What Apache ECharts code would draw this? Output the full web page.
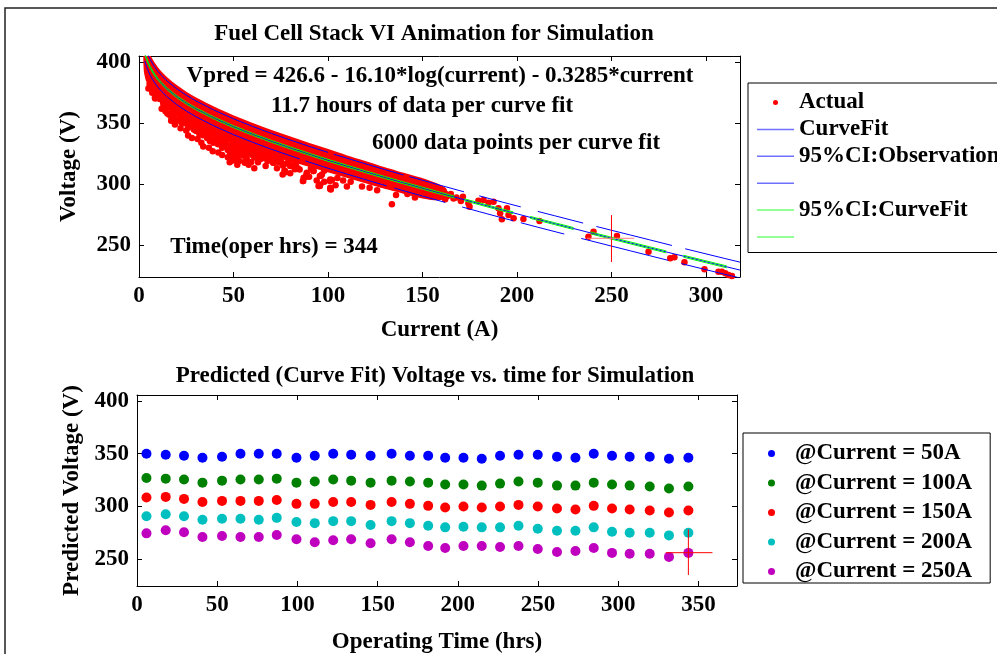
<!DOCTYPE html>
<html><head><meta charset="utf-8">
<script src="https://cdn.jsdelivr.net/npm/echarts@6/dist/echarts.min.js"></script>
<style>html,body{margin:0;padding:0;background:#fff;overflow:hidden}#c{width:997px;height:654px}</style>
</head><body><div id="c"></div>
<script>
// ---------- TOP PLOT DATA ----------
const titleTop = 'Fuel Cell Stack VI Animation for Simulation';
const titleBottom = 'Predicted (Curve Fit) Voltage vs. time for Simulation';
const noteLines = ['Vpred = 426.6 - 16.10*log(current) - 0.3285*current', '11.7 hours of data per curve fit', '6000 data points per curve fit', 'Time(oper hrs) = 344'];

// dense cloud of measured points (upper / lower edge of the solid band)
const bandTop = [[3,416.4],[4,411.5],[5,407.6],[6,404.3],[8,399],[10,394.7],[12,391.2],[15,386.6],[20,380.3],[25,375.1],[30,370.5],[40,362.6],[50,355.7],[60,349.5],[70,343.7],[80,338.3],[90,333.1],[100,328],[110,322.8],[120,318],[130,313],[140,308.5],[150,304],[158,299.5],[162,296]];
const bandBottom = [[3,394],[4,386],[5,383],[6,380],[8,375],[10,370.5],[12,367],[15,362.5],[20,356.5],[25,351.5],[30,347.5],[40,340],[50,334],[60,328.5],[70,324],[80,319.5],[90,315],[100,310.5],[110,306],[120,301.5],[130,297],[140,293],[150,289],[158,287.5],[162,289]];

// individual measured points (outliers and sparse region)
const actualPts = [
 [5.6,382.4],[8.2,377],[9.1,371.5],[17,363.3],[17.9,357.8],[21.4,356.5],[23.2,352.4],[25.9,349.6],[27.6,353.7],[31.2,345.5],
 [33.8,349.6],[35.6,342.8],[38.2,337.3],[40.8,341.4],[41.7,333.2],[44.4,336],[47,338.7],[48.8,331.9],[50.5,326.4],[49.7,319.5],
 [53.2,329.1],[55,323.6],[59.4,318.1],[58.5,326.4],[64.7,320.9],[68.2,320.9],[70.8,318.1],[76.1,315.4],[77,311.3],[39.1,346.9],
 [33.8,340.1],[8.6,370.4],[5.0,378.6],[13,365],[18.3,354],[28.9,347.6],[43,343.6],[42.1,335.4],[48.2,325.8],[51.8,328.5],
 [56.2,319],[53.5,332.6],[63.2,321.7],[66.8,321.7],[71.2,317.6],[80,314.9],[87.1,305.3],[88.8,309.4],[92.4,310.8],[96.8,308],
 [95.9,299.8],[101.2,303.9],[101.2,297.1],[133.8,283.4],[77.4,309.7],[80.4,315.1],[88.5,306.1],[86.7,302.5],[96.2,306.9],[95,298.4],
 [102.1,303.4],[101.2,296],[11,370],[14,362],[16,366],[19,358],[20,352],[22,360],[24,355],[26,352],
 [28,350],[30,344],[32,348],[34,344],[36,346],[37,340],[39,342],[42,340],[45,332],[46,338],
 [50,334],[52,322],[54,328],[56,330],[57,324],[60,328],[61,322],[62,326],[66,324],[72,322],
 [74,318],[79,318],[83,316],[85,312],[91,313],[98,311],[105,305],[108,303],[112,302],[118,298],
 [122,297],[126,295],[128,300],[136,291],[142,292],[146,289],[152,298],[154,293],[157,297],[160,293],
 [163,290],[165,292],[168,289],[155.8,295.2],[158.5,295.7],[161.1,294.6],[162,292.4],[159.4,291],[162,287.5],[164.7,291],
 [166.4,288.3],[171.4,289.7],[170.3,286.1],[174.3,284.2],[174.9,281.4],[179.6,286.4],[182.3,286.9],[184.9,284.7],[187.6,285.5],[190.2,280.1],
 [191.1,276],[194.7,280.1],[195.5,274.6],[198.2,271.9],[192,271.1],[203.4,271.3],[211.9,269.7],[237.8,256.8],[240.5,260.9],[252.9,257.4],
 [269.6,244.5],[281.1,239.1],[283.3,239.9],[288.6,235.8],[299.2,230],[306.6,228.1],[308.4,228.1],[310.2,226.8],[311.9,225.4],[313.7,224.6],
 [5.8,380.5],[8.4,370.9],[12.8,366.8],[17.2,354.5],[19,358.6],[22.5,350.4],[26,346.3],[30.4,343.6],[34.9,340.9],[37.5,335.4],
 [39.3,334],[41.9,332.7],[43.7,339.5],[47.2,336.8],[48.9,328.6],[49.8,323.1],[52.5,327.2],[50.7,320.4],[56,317.6],[54.2,324.5],
 [57.8,325.8],[62.2,321.7],[66.6,321.7],[71,317.6],[70.1,321.7],[77.2,310.8],[80.7,314.9],[86.9,302.5],[88.6,308],[92.2,310.8],
 [95.7,306.6],[95.7,298.4],[101,302.5],[101.5,295.7],[19.8,364.1],[27.8,353.2],[33.1,346.3],[46.3,342.2],[50.7,332.7],[56,329.9],
 [61.3,328.6],[64.8,325.8],[75.4,317.6],[82.5,312.2],[14,360],[16,357],[18,361],[21,353],[23,357],[24,350],
 [27,349],[29,345],[31,349],[32,341],[35,345],[36,338],[38,343],[40,336],[41,339],[43,335],
 [44,330],[46,333],[47,328],[49,332],[51,325],[53,330],[55,326],[57,321],[58,329],[60,324],
 [63,318],[65,323],[68,319],[69,324],[72,319],[75,320],[78,317],[82,316],[84,313],[7,375],
 [12,362],[15,358],[17,352],[19,349],[22,346],[25,344],[26,340],[28,338],[31,337],[33,334],
 [34,331],[37,330],[39,327],[42,326],[44,324],[47,322],[48,318],[52,316],[53,319],[58,316],
 [61,313],[67,315],[73,313],[76,308],[80,309],[90,306],[94,303],[98,302],[104,299],[110,298]
];

// curve fit (Vpred)
const fitLine = [[3,407.9],[3.5,405.3],[4,403.0],[5,399.1],[6,395.8],[7,393.0],[8,390.5],[10,386.2],[12,382.7],[15,378.1],[20,371.8],[25,366.6],[30,362.0],[40,354.1],[50,347.2],[60,341.0],[70,335.2],[80,329.8],[90,324.6],[100,319.6],[110,314.8],[120,310.1],[130,305.5],[140,301.0],[150,296.7],[160,292.3],[170,288.1],[180,283.9],[190,279.7],[200,275.6],[210,271.5],[220,267.5],[230,263.5],[240,259.5],[250,255.6],[260,251.7],[270,247.8],[280,243.9],[290,240.1],[300,236.2],[310,232.4],[318,229.4]];

// 95% CI : observation (drawn in segments)
const obsUpperSegs = [
 [[3,414.4],[3.5,411.8],[4,409.5],[5,405.6],[6,402.3],[7,399.5],[8,397.0],[10,392.7],[12,389.2],[15,384.6],[20,378.3],[25,373.1],[30,368.5],[40,360.6],[50,353.7],[60,347.5],[70,341.7],[80,336.3],[90,331.1],[100,326.1]],
 [[103,324.6],[110,321.3],[120,316.6],[130,312.0],[140,307.5]],
 [[143,306.2],[150,303.2],[160,298.8],[172,293.7]],
 [[180,290.4],[190,286.2],[202,281.3]],
 [[211,277.6],[220,274.0],[235,268.0]],
 [[242,265.2],[250,262.1],[260,258.2],[270,254.3],[282,249.6]],
 [[289,246.9],[300,242.7],[310,238.9],[318,235.9]]
];
const obsLowerSegs = [
 [[3,401.4],[3.5,398.8],[4,396.5],[5,392.6],[6,389.3],[7,386.5],[8,384.0],[10,379.7],[12,376.2],[15,371.6],[20,365.3],[25,360.1],[30,355.5],[40,347.6],[50,340.7],[60,334.5],[70,328.7],[85,320.7]],
 [[88,319.1],[100,313.1],[110,308.3],[120,303.6],[131,298.6]],
 [[135,296.8],[150,290.2],[162,285.0]],
 [[171,281.2],[180,277.4],[190,273.2],[198,269.9]],
 [[202,268.3],[211,264.6],[225,259.0]],
 [[234,255.4],[250,249.1],[260,245.2],[270,241.3],[280,237.4]],
 [[287,234.7],[300,229.7],[310,225.9],[318,222.9]]
];
// 95% CI : curve fit (drawn in segments)
const fitUpperSegs = [
 [[3,408.7],[3.5,406.1],[4,403.8],[5,399.9],[6,396.6],[7,393.8],[8,391.3],[10,387.0],[12,383.5],[15,378.9],[20,372.6],[25,367.4],[30,362.8],[40,354.9],[50,348.0],[60,341.8],[70,336.0],[80,330.6],[90,325.4],[100,320.4],[110,315.6],[120,310.9],[130,306.3],[140,301.8],[150,297.5],[160,293.1],[167,290.1]],
 [[172,288.0],[180,284.7],[190,280.5],[198,277.2]],
 [[207,273.5],[220,268.3],[230,264.3]],
 [[239,260.7],[250,256.4],[260,252.5],[270,248.6],[279,245.1]],
 [[288,241.6],[300,237.0],[311,232.8]]
];
const fitLowerSegs = [
 [[3,407.1],[3.5,404.5],[4,402.2],[5,398.3],[6,395.0],[7,392.2],[8,389.7],[10,385.4],[12,381.9],[15,377.3],[20,371.0],[25,365.8],[30,361.2],[40,353.3],[50,346.4],[60,340.2],[70,334.4],[80,329.0],[90,323.8],[100,318.8],[110,314.0],[120,309.3],[130,304.7],[140,300.2],[150,295.9],[160,291.5],[167,288.5]],
 [[172,286.4],[180,283.1],[190,278.9],[198,275.6]],
 [[207,271.9],[220,266.7],[230,262.7]],
 [[239,259.1],[250,254.8],[260,250.9],[270,247.0],[279,243.5]],
 [[288,240.0],[300,235.4],[311,231.2]]
];
// current marker (I = 250 A)
const topCrossV = [[250,274.6],[250,236]];
const topCrossH = [[237,255.5],[262,255.5]];

// ---------- BOTTOM PLOT DATA ----------
const timeHrs = [5.9,17.9,29.3,40.8,53,64.5,75.9,87.1,99.4,110.8,122.3,133.5,145.6,158.7,170.1,181.5,192.1,203.5,214.9,226.3,237.8,249.8,261.8,273.3,284.7,296.1,307.1,319.6,331.6,343.7];
const v50  = [350,349,348.1,346.2,347.2,350,350,350,346.2,348.1,350,349,348.1,350,348.1,348.1,346.2,346.2,345.3,348.1,349,349,347.2,346.2,350,348.1,347.2,347.2,345.3,346.2];
const v100 = [327,326.4,325.5,322.6,324.5,325.5,325.5,326.4,322.6,323.6,325.5,324.5,322.6,324.5,323.6,322.6,320.8,320.8,319.8,321.7,323.6,322.6,319.8,319.8,322.6,320.8,319.8,318.9,317,318.9];
const v150 = [308.5,309.1,307.2,304.3,305.3,305.3,305.3,306.2,302.5,302.5,304.3,304.3,301.5,304.3,302.5,300.6,299.1,300,299.1,300,301.5,300,298.1,297.2,300.6,298.1,297.2,296.2,294.3,296.2];
const v200 = [290.8,292.7,290.8,287.4,288.3,288.3,287.4,289.2,285.2,284.2,286.1,286.1,282.4,286.1,284.2,281.7,280.2,280.8,280.2,280.2,281.7,278.9,277,277,280.2,276,275.1,275.1,272.6,275.1];
const v250 = [274.5,277.4,275.5,271,272,271,271,272.9,268.9,266,267.9,268.9,265.1,268.9,266,262.5,260.7,262.5,262.5,261.6,262.5,259.7,256.9,257.8,260.7,256,255.1,255.1,252.2,256];
const bottomNames = ['@Current = 50A','@Current = 100A','@Current = 150A','@Current = 200A','@Current = 250A'];
const bottomColors = ['#0000ff','#008000','#ff0000','#00bfbf','#bf00bf'];
const botCrossV = [[343.7,278.3],[343.7,235]];
const botCrossH = [[329.6,256.2],[358.7,256.2]];

// axis ranges
const topX = {min:0, max:318}, topY = {min:223.7, max:405.3};
const botX = {min:0, max:374}, botY = {min:224.6, max:405.7};

// ---------- BUILD ----------
const FONT = '"Liberation Serif","Times New Roman",serif';
const FS = 23;
const txt = {fontFamily:FONT, fontWeight:'bold', fontSize:FS, color:'#000'};
function segData(segs){
  const out=[];
  segs.forEach((s,i)=>{ if(i>0){ out.push([(segs[i-1][segs[i-1].length-1][0]+s[0][0])/2,'-']); } s.forEach(p=>out.push(p)); });
  return out;
}
function toPairs(xs, ys){ return xs.map((x,i)=>[x,ys[i]]); }
const fmt50 = v => (Math.abs(v % 50) < 1e-6 ? String(Math.round(v)) : '');

function xAx(grid, r, pos, name, gap, showLabels){
  return {type:'value', gridIndex:grid, position:pos, min:r.min, max:r.max, interval:50,
    name: name||'', nameLocation:'middle', nameGap:gap||0, nameTextStyle:txt,
    axisLine:{show:true, onZero:false, lineStyle:{color:'#000', width:1}},
    axisTick:{show:true, inside:true, length:5, lineStyle:{color:'#000'}},
    axisLabel:{show:!!showLabels, margin:8, formatter:fmt50, ...txt},
    splitLine:{show:false}};
}
function yAx(grid, r, pos, name, gap, showLabels){
  return {type:'value', gridIndex:grid, position:pos, min:r.min, max:r.max, minInterval:50, maxInterval:50,
    name: name||'', nameLocation:'middle', nameGap:gap||0, nameTextStyle:txt,
    axisLine:{show:true, onZero:false, lineStyle:{color:'#000', width:1}},
    axisTick:{show:true, inside:true, length:5, lineStyle:{color:'#000'}},
    axisLabel:{show:!!showLabels, margin:8, formatter:fmt50, ...txt},
    splitLine:{show:false}};
}
function line(name, data, color, xi, yi, z){
  return {type:'line', name, data, xAxisIndex:xi, yAxisIndex:yi, showSymbol:false, symbol:'none',
    connectNulls:false, clip:true, silent:true, z:z||3,
    lineStyle:{color, width:1, opacity:1}, itemStyle:{color}};
}
const linePath = 'path://M0,0H37V1.5H0Z';

const series = [
  {type:'custom', name:'ActualBand', xAxisIndex:0, yAxisIndex:0, clip:true, silent:true, z:1, data:[0],
    renderItem:(params, api)=>{
      const pts = bandTop.map(p=>api.coord(p)).concat(bandBottom.slice().reverse().map(p=>api.coord(p)));
      return {type:'polygon', shape:{points:pts, smooth:0.3}, style:{fill:'#ff0000', stroke:'#ff0000', lineWidth:2}};
    }},
  {type:'scatter', name:'Actual', data:actualPts, xAxisIndex:0, yAxisIndex:0, symbol:'circle', symbolSize:6.5, clip:true, silent:true, z:2, itemStyle:{color:'#ff0000', opacity:1}},
  line('CurveFit', fitLine, '#0000ff', 0, 0, 3),
  line('95%CI:Observation', segData(obsUpperSegs), '#0000ff', 0, 0, 3),
  line(' ', segData(obsLowerSegs), '#0000ff', 0, 0, 3),
  line('95%CI:CurveFit', segData(fitUpperSegs), '#00ff00', 0, 0, 4),
  line('  ', segData(fitLowerSegs), '#00ff00', 0, 0, 4),
  line('markV', topCrossV, '#ff0000', 0, 0, 5),
  line('markH', topCrossH, '#ff8080', 0, 0, 5)
];
[v50,v100,v150,v200,v250].forEach((vals,i)=>{
  series.push({type:'scatter', name:bottomNames[i], data:toPairs(timeHrs, vals), xAxisIndex:2, yAxisIndex:2,
    symbol:'circle', symbolSize:10, silent:true, z:2, itemStyle:{color:bottomColors[i], opacity:1}});
});
series.push(line('bmarkV', botCrossV, '#ff0000', 2, 2, 5));
series.push(line('bmarkH', botCrossH, '#ff0000', 2, 2, 5));

const option = {
  animation:false,
  backgroundColor:'#fff',
  grid:[
    {left:139, top:56, width:601, height:221, containLabel:false, outerBoundsMode:'none'},
    {left:137, top:395, width:600, height:191, containLabel:false, outerBoundsMode:'none'}
  ],
  xAxis:[
    xAx(0, topX, 'bottom', 'Current (A)', 42, true),
    xAx(0, topX, 'top', '', 0, false),
    xAx(1, botX, 'bottom', 'Operating Time (hrs)', 45, true),
    xAx(1, botX, 'top', '', 0, false)
  ],
  yAxis:[
    yAx(0, topY, 'left', 'Voltage (V)', 58, true),
    yAx(0, topY, 'right', '', 0, false),
    yAx(1, botY, 'left', 'Predicted Voltage (V)', 50, true),
    yAx(1, botY, 'right', '', 0, false)
  ],
  legend:[
    {orient:'vertical', left:748, top:83, align:'left', selectedMode:false, itemWidth:37, itemHeight:5, itemGap:3.9,
      padding:[8,12,4,9], borderColor:'#000', borderWidth:1, backgroundColor:'#fff', textStyle:txt,
      data:[
        {name:'Actual', icon:'circle', itemStyle:{color:'#ff0000'}},
        {name:'CurveFit', icon:linePath, itemStyle:{color:'#7070ff'}},
        {name:'95%CI:Observation', icon:linePath, itemStyle:{color:'#7070ff'}},
        {name:' ', icon:linePath, itemStyle:{color:'#7070ff'}},
        {name:'95%CI:CurveFit', icon:linePath, itemStyle:{color:'#70ff70'}},
        {name:'  ', icon:linePath, itemStyle:{color:'#70ff70'}}
      ]},
    {orient:'vertical', left:743, top:433, align:'left', selectedMode:false, itemWidth:37, itemHeight:7, itemGap:6.5,
      padding:[9,18,0,25], borderColor:'#000', borderWidth:1, backgroundColor:'#fff', textStyle:txt,
      data:bottomNames.map((n,i)=>({name:n, icon:'circle', itemStyle:{color:bottomColors[i]}}))}
  ],
  graphic:[
    {type:'rect', silent:true, z:-1, shape:{x:5, y:8, width:1010, height:700}, style:{fill:'none', stroke:'#222', lineWidth:1.5}},
    {type:'text', silent:true, z:100, x:434, y:34, style:{text:titleTop, align:'center', verticalAlign:'middle', fontFamily:FONT, fontWeight:'bold', fontSize:FS, fill:'#000'}},
    {type:'text', silent:true, z:100, x:440, y:76, style:{text:noteLines[0], align:'center', verticalAlign:'middle', fontFamily:FONT, fontWeight:'bold', fontSize:FS, fill:'#000'}},
    {type:'text', silent:true, z:100, x:422, y:106, style:{text:noteLines[1], align:'center', verticalAlign:'middle', fontFamily:FONT, fontWeight:'bold', fontSize:FS, fill:'#000'}},
    {type:'text', silent:true, z:100, x:516, y:143, style:{text:noteLines[2], align:'center', verticalAlign:'middle', fontFamily:FONT, fontWeight:'bold', fontSize:FS, fill:'#000'}},
    {type:'text', silent:true, z:100, x:274, y:247, style:{text:noteLines[3], align:'center', verticalAlign:'middle', fontFamily:FONT, fontWeight:'bold', fontSize:FS, fill:'#000'}},
    {type:'text', silent:true, z:100, x:435, y:376, style:{text:titleBottom, align:'center', verticalAlign:'middle', fontFamily:FONT, fontWeight:'bold', fontSize:FS, fill:'#000'}}
  ],
  series
};
const chart = echarts.init(document.getElementById('c'), null, {renderer:'canvas'});
chart.setOption(option);
</script></body></html>
